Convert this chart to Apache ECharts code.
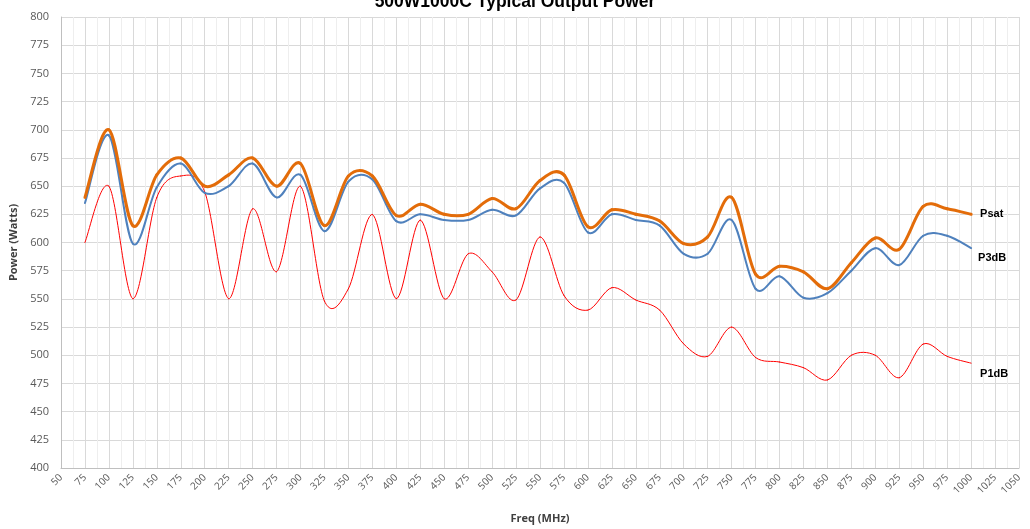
<!DOCTYPE html>
<html><head><meta charset="utf-8">
<script src="https://cdn.jsdelivr.net/npm/echarts@6/dist/echarts.min.js"></script>
<style>html,body{margin:0;padding:0;background:#fff}#c{width:1030px;height:529px}</style>
</head><body><div id="c"></div>
<script>
const freqs = [75,100,125,150,175,200,225,250,275,300,325,350,375,400,425,450,475,500,525,550,575,600,625,650,675,700,725,750,775,800,825,850,875,900,925,950,975,1000];
const psat = [640,700,615,660,675,650,660,675,650,670,615,659,659,624,634,625,625,639,630,655,660,614,629,625,619,599,605,640,572,579,574,559,582,604,594,632,630,625];
const p3db = [635,695,599,649,670,644,650,670,640,660,610,654,656,619,625,620,620,629,624,648,653,609,625,620,615,590,590,620,559,570,551,555,575,595,580,606,606,595];
const p1db = [600,650,550,640,659,645,550,630,574,650,548,559,625,550,620,550,590,574,549,605,553,540,560,549,540,510,499,525,498,494,489,478,500,500,480,510,499,493];
const yTicks = [400,800,25];
const xTicks = [50,1050,25];
const names = ['Psat','P3dB','P1dB'];

const chart = echarts.init(document.getElementById('c'), null, {renderer:'canvas'});
const font = 'Liberation Sans, Arial, sans-serif';
const pair = a => freqs.map((f,i)=>[f,a[i]]);

function smoothSeries(name, vals, color, width, labelOff, z){
  return {
    name, type:'custom', z, data: pair(vals), encode:{x:0, y:1}, clip:false,
    renderItem: function(params, api){
      if (params.dataIndex !== 0) return null;
      const P = freqs.map((f,i)=>api.coord([f, vals[i]]));
      const n = P.length, children = [];
      for (let i=0;i<n-1;i++){
        const p0 = P[Math.max(0,i-1)], p1 = P[i], p2 = P[i+1], p3 = P[Math.min(n-1,i+2)];
        children.push({type:'bezierCurve', shape:{
          x1:p1[0], y1:p1[1], x2:p2[0], y2:p2[1],
          cpx1:p1[0]+(p2[0]-p0[0])/6, cpy1:p1[1]+(p2[1]-p0[1])/6,
          cpx2:p2[0]-(p3[0]-p1[0])/6, cpy2:p2[1]-(p3[1]-p1[1])/6},
          style:{stroke:color, lineWidth:width, fill:null, lineCap:'round', lineJoin:'round'}, silent:true});
      }
      const last = P[n-1];
      children.push({type:'text', x:last[0]+labelOff[0], y:last[1]+labelOff[1], style:{text:name, fill:'#000', font:'bold 11px '+font, verticalAlign:'middle', align:'left'}, silent:true});
      return {type:'group', children};
    }
  };
}

chart.setOption({
  animation:false,
  title:{text:'500W1000C Typical Output Power', left:'center', top:-12, textStyle:{fontFamily:font, fontWeight:'bold', fontSize:17.5, color:'#000'}},
  grid:{left:61, right:11, top:17, bottom:58},
  xAxis:{type:'value', min:xTicks[0], max:xTicks[1], interval:xTicks[2],
    name:'Freq (MHz)', nameLocation:'middle', nameGap:45, nameTextStyle:{fontFamily:'Open Sans, sans-serif', fontWeight:'bold', fontSize:11, color:'#404040'},
    axisLine:{lineStyle:{color:'#bfbfbf'}}, axisTick:{show:false},
    axisLabel:{rotate:45, fontFamily:'Open Sans, sans-serif', fontSize:10, color:'#595959', margin:8, formatter: v => String(v)},
    splitLine:{show:true, lineStyle:{color:'#d9d9d9', width:1}},
    minorTick:{show:false, splitNumber:2},
    minorSplitLine:{show:true, lineStyle:{color:'#eeeeee', width:1}}
  },
  yAxis:{type:'value', min:yTicks[0], max:yTicks[1], interval:yTicks[2],
    name:'Power (Watts)', nameLocation:'middle', nameGap:38, nameTextStyle:{fontFamily:'Open Sans, sans-serif', fontWeight:'bold', fontSize:11, color:'#404040'},
    axisLine:{show:true, lineStyle:{color:'#bfbfbf'}}, axisTick:{show:false},
    axisLabel:{fontFamily:'Open Sans, sans-serif', fontSize:11, color:'#595959', margin:12},
    splitLine:{show:true, lineStyle:{color:'#d9d9d9', width:1}}
  },
  series:[
    smoothSeries(names[2], p1db, '#ff0000', 1, [9,11], 2),
    smoothSeries(names[1], p3db, '#4f81bd', 2, [7,10], 3),
    smoothSeries(names[0], psat, '#e36c09', 3, [9,0], 4)
  ]
});
</script></body></html>
